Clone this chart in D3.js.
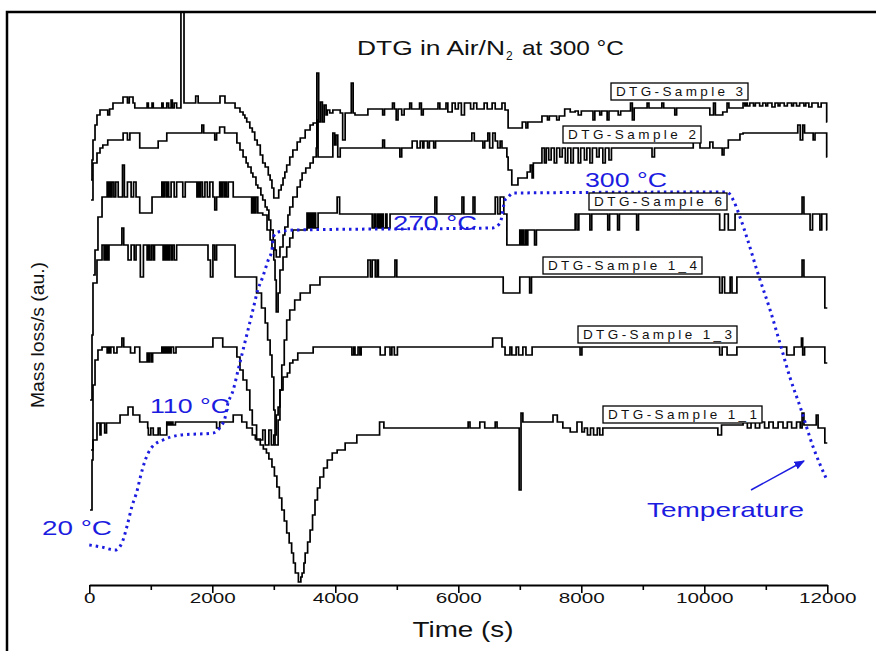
<!DOCTYPE html>
<html>
<head>
<meta charset="utf-8">
<script src="https://cdn.jsdelivr.net/npm/d3@7"></script>
<style>
  body { margin: 0; background: #fff; }
  svg { display: block; font-family: Arial, "Liberation Sans", sans-serif; }
</style>
</head>
<body>
<svg id="chart"></svg>
<script>
const width = 876
const height = 651

// x ticks (s)
const majorTicks = [0, 2000, 4000, 6000, 8000, 10000, 12000]
const minorTicks = [1000, 3000, 5000, 7000, 9000, 11000]

// series names, top to bottom
const seriesNames = ["DTG-Sample 3", "DTG-Sample 2", "DTG-Sample 6", "DTG-Sample 1_4", "DTG-Sample 1_3", "DTG-Sample 1_1"]

// DTG curves: [time (s), mass loss/s (a.u.)], step values
const sample3 = [[28,40.5],[44,42.5],[60,44.5],[93,46.0],[125,47.0],[174,47.5],[300,47.0],[330,47.6],[385,48.2],[548,48.8],[620,48.2],[650,48.8],[711,48.2],[740,47.7],[940,48.2],[960,47.7],[1020,48.2],[1040,47.7],[1180,48.2],[1200,47.7],[1260,48.2],[1290,47.7],[1330,48.5],[1350,47.7],[1380,48.2],[1420,47.7],[1490,57.3],[1540,48.2],[1730,48.9],[1770,48.2],[2125,48.9],[2206,48.2],[2370,47.7],[2450,47.3],[2500,47.0],[2530,46.7],[2560,46.3],[2610,45.7],[2650,45.3],[2690,44.5],[2730,44.0],[2780,43.0],[2820,42.2],[2860,41.8],[2910,41.0],[2940,40.5],[2970,39.7],[3000,38.7],[3080,39.5],[3120,40.0],[3150,40.7],[3180,41.3],[3210,42.0],[3260,42.8],[3310,43.5],[3380,44.3],[3430,44.7],[3510,45.5],[3590,46.0],[3640,46.2],[3700,51.2],[3730,46.3],[3760,48.3],[3790,46.3],[3820,48.0],[3850,47.0],[3870,47.5],[3910,47.2],[3960,47.5],[4080,47.2],[4120,44.5],[4160,47.2],[4260,50.2],[4290,47.2],[4320,47.0],[4530,47.6],[4770,47.0],[4800,47.6],[4930,48.2],[4960,47.6],[4990,46.5],[5020,47.6],[5080,47.0],[5120,47.6],[5210,48.2],[5240,47.6],[5370,48.2],[5400,47.0],[5430,47.6],[5670,48.2],[5700,47.6],[5800,48.2],[5830,47.3],[5900,48.2],[5950,47.6],[6000,48.2],[6050,47.0],[6100,48.2],[6200,47.6],[6250,48.2],[6300,47.6],[6420,48.2],[6470,47.6],[6550,48.2],[6600,47.6],[6710,48.2],[6760,47.5],[6810,45.7],[7040,46.3],[7100,45.7],[7130,46.3],[7360,46.9],[7450,46.5],[7480,46.9],[7600,46.5],[7640,46.9],[7730,47.6],[7820,47.3],[7900,47.4],[7950,47.0],[8000,47.4],[8190,46.5],[8220,47.4],[8300,47.0],[8330,47.4],[8420,46.5],[8450,47.4],[8600,47.0],[8640,47.4],[8800,48.2],[8830,46.5],[8860,47.7],[9070,48.2],[9100,47.7],[9310,48.2],[9340,47.7],[9520,47.0],[9550,47.7],[10090,47.0],[10150,48.2],[10180,47.0],[10300,47.3],[10370,48.2],[10400,47.7],[10630,48.2],[10660,47.9],[10680,48.2],[10700,47.9],[10740,48.2],[10800,47.9],[10830,48.2],[10900,47.9],[10950,48.2],[11000,47.9],[11030,48.2],[11100,47.8],[11150,48.2],[11200,47.9],[11230,48.2],[11300,47.9],[11350,48.2],[11420,47.9],[11450,48.2],[11500,47.9],[11550,48.2],[11620,47.9],[11650,48.2],[11700,47.8],[11750,48.2],[11850,47.8],[11900,48.2],[11990,46.3],[12000,46.3]]

const sample2 = [[28,38.5],[60,42.2],[125,43.2],[174,43.7],[220,44.0],[300,44.5],[550,45.2],[620,44.5],[660,45.2],[820,43.7],[1120,44.4],[1260,45.2],[1830,46.0],[1860,45.2],[2040,44.5],[2070,45.2],[2120,45.8],[2200,45.2],[2400,44.2],[2450,43.5],[2500,42.8],[2550,42.2],[2580,41.8],[2630,41.2],[2660,40.8],[2710,40.0],[2740,39.7],[2790,39.0],[2820,38.5],[2860,37.8],[2890,37.5],[2920,36.5],[2950,35.5],[2990,34.5],[3020,33.5],[3040,32.8],[3100,33.8],[3150,35.0],[3180,35.8],[3230,37.0],[3260,37.8],[3310,38.8],[3380,39.8],[3430,40.5],[3460,41.2],[3520,41.7],[3590,42.2],[3640,42.8],[3690,43.7],[3700,46.5],[3720,42.8],[3960,45.2],[3990,44.0],[4010,45.0],[4040,42.8],[4080,43.7],[4770,44.5],[4800,43.7],[5050,42.8],[5080,43.7],[5250,44.4],[5330,43.7],[5380,44.4],[5420,43.7],[5440,44.4],[5500,43.7],[5530,44.4],[5600,43.7],[5630,44.4],[6220,45.2],[6260,44.4],[6400,43.7],[6430,44.4],[6480,45.2],[6510,43.7],[6560,45.2],[6600,44.4],[6640,43.7],[6680,44.4],[6710,43.7],[6790,42.8],[6810,41.5],[6870,40.0],[6970,40.7],[7120,41.3],[7170,42.0],[7200,40.7],[7220,42.2],[7360,43.7],[7400,42.2],[7430,43.7],[7470,42.5],[7510,43.7],[7560,42.2],[7600,43.7],[7650,42.8],[7690,43.7],[7740,42.2],[7780,43.7],[7830,42.2],[7870,43.7],[7950,42.2],[7990,43.7],[8050,42.5],[8090,43.7],[8140,42.2],[8180,43.7],[8250,42.8],[8290,43.7],[8350,42.2],[8390,43.7],[8450,42.5],[8490,43.7],[9150,42.8],[9190,43.7],[9820,44.3],[9930,43.7],[10090,44.3],[10140,43.7],[10290,43.0],[10320,43.7],[10390,44.5],[10580,45.1],[10630,45.2],[11520,46.0],[11560,44.5],[11600,46.0],[11630,45.2],[11770,44.5],[11800,45.2],[11990,42.8],[12000,42.8]]

const sample6 = [[60,31.0],[93,33.5],[141,36.8],[207,38.8],[290,40.3],[310,38.8],[330,40.3],[350,38.8],[370,40.3],[400,38.8],[430,40.3],[470,38.8],[540,42.0],[570,38.8],[620,40.3],[680,38.8],[720,40.3],[760,38.8],[820,37.2],[1020,38.8],[1180,40.3],[1200,38.8],[1220,40.3],[1250,38.8],[1270,40.3],[1290,38.8],[1330,40.3],[1380,38.8],[1420,40.3],[1520,38.8],[1560,40.3],[1750,38.8],[1770,40.3],[1790,38.8],[1810,40.3],[1840,38.8],[1880,40.3],[1920,38.8],[1960,40.3],[2010,38.8],[2040,37.5],[2070,38.8],[2120,40.3],[2140,38.8],[2160,40.3],[2190,38.8],[2210,40.3],[2230,38.8],[2260,40.3],[2340,38.8],[2640,37.2],[2660,38.8],[2670,37.2],[2690,38.8],[2700,37.2],[2710,38.8],[2740,37.2],[2820,37.0],[2890,35.5],[2940,34.5],[2970,33.7],[3000,32.5],[3020,30.5],[3040,27.3],[3070,29.2],[3100,31.5],[3150,32.8],[3210,33.8],[3260,34.7],[3310,35.5],[3540,37.2],[3560,35.7],[3580,37.2],[3600,35.7],[3620,37.2],[3640,35.7],[3660,37.2],[3680,35.7],[3720,37.2],[4030,38.8],[4070,37.1],[4600,35.7],[4630,37.1],[4650,35.7],[4680,37.1],[4700,35.7],[4720,37.1],[4740,35.7],[4760,37.1],[4780,35.7],[4820,37.1],[4840,35.7],[4890,37.1],[5620,38.8],[5650,37.1],[6060,38.8],[6090,37.1],[6240,38.8],[6270,37.1],[6600,38.8],[6640,37.1],[6680,38.8],[6740,37.1],[6790,34.0],[7000,35.5],[7020,34.0],[7040,35.5],[7060,34.0],[7090,35.5],[7110,34.0],[7130,35.5],[7240,34.0],[7270,35.5],[7900,37.1],[7930,35.5],[7960,37.1],[8140,35.5],[8170,37.1],[8430,35.5],[8460,37.1],[8590,35.5],[8620,37.1],[8900,35.5],[8930,37.1],[10250,35.5],[10330,37.1],[10390,35.5],[10500,37.1],[11590,38.8],[11620,37.1],[11720,35.5],[11760,37.1],[11880,35.5],[11910,37.1],[11990,35.5],[12000,35.5]]

const sample1_4 = [[11,18.5],[44,25.0],[60,30.2],[125,32.5],[207,34.0],[240,32.5],[255,34.0],[270,32.5],[285,34.0],[300,32.5],[320,34.0],[530,35.7],[560,34.0],[630,32.5],[680,34.0],[730,32.5],[760,34.0],[830,30.8],[880,34.0],[940,32.5],[960,34.0],[980,32.5],[1010,34.0],[1040,32.5],[1060,34.0],[1200,32.5],[1220,34.0],[1240,32.5],[1260,34.0],[1280,32.5],[1300,34.0],[1330,32.5],[1350,34.0],[1380,32.5],[1420,34.0],[1930,32.5],[1970,30.8],[2010,34.0],[2040,32.5],[2070,34.0],[2370,30.8],[2720,29.2],[2800,27.7],[2860,26.2],[2900,24.5],[2940,23.0],[2970,20.8],[3000,17.5],[3020,14.0],[3070,16.5],[3100,19.5],[3130,22.0],[3170,24.5],[3210,26.5],[3260,27.5],[3340,28.5],[3430,29.2],[3590,30.0],[3750,30.8],[4530,32.5],[4570,30.8],[4600,32.5],[4650,30.8],[4680,32.5],[4700,30.8],[4970,32.5],[5000,30.8],[6730,29.2],[7000,30.8],[7160,29.2],[7190,30.8],[10250,29.2],[10290,30.8],[10330,29.2],[10420,30.8],[10450,29.2],[10530,30.8],[11590,32.5],[11620,30.8],[11960,27.7],[12000,27.7]]

const sample1_3 = [[28,13.5],[60,20.0],[93,22.5],[141,23.5],[207,23.8],[290,23.2],[310,23.8],[330,23.2],[350,23.8],[400,23.2],[450,23.8],[530,24.7],[560,23.8],[670,23.2],[740,23.8],[820,22.3],[940,23.2],[960,22.3],[980,23.2],[1010,22.3],[1030,23.2],[1180,23.8],[1200,23.2],[1210,23.8],[1230,23.2],[1250,23.8],[1270,23.2],[1290,23.8],[1310,23.2],[1330,23.8],[1370,23.2],[1410,23.8],[2010,24.7],[2170,23.8],[2400,22.8],[2450,21.5],[2500,20.5],[2560,19.5],[2610,17.5],[2650,16.0],[2720,14.5],[2820,15.5],[2860,14.0],[2920,15.5],[2960,14.0],[3000,15.0],[3040,17.0],[3070,17.8],[3100,19.5],[3150,20.8],[3220,21.2],[3260,22.2],[3310,22.5],[3390,23.2],[3640,23.8],[4270,23.0],[4300,23.8],[4320,23.0],[4370,23.8],[4400,23.0],[4420,23.8],[4730,23.0],[4810,23.8],[4890,23.0],[4920,23.8],[4960,23.0],[5010,23.8],[6560,24.7],[6710,23.8],[6760,23.0],[6840,23.8],[6870,23.0],[6940,23.8],[6980,23.0],[7050,23.8],[7100,23.0],[7200,23.8],[7980,23.0],[8010,23.8],[10250,23.0],[10290,23.8],[10370,23.0],[10530,23.8],[11340,23.0],[11460,23.8],[11580,24.7],[11600,23.0],[11630,23.8],[11960,22.2],[12000,22.2]]

const sample1_1 = [[11,7.5],[44,12.5],[60,14.5],[125,16.2],[174,15.0],[190,16.2],[250,15.2],[280,16.2],[500,17.0],[630,17.8],[710,17.0],[820,16.3],[950,15.7],[960,15.0],[1000,15.7],[1040,15.0],[1120,15.7],[1150,15.0],[1260,16.3],[1280,16.0],[1300,16.3],[1320,16.0],[1340,16.3],[1360,16.0],[1400,16.3],[2070,15.7],[2120,16.3],[2340,17.0],[2480,16.3],[2560,15.7],[2650,15.0],[2700,14.6],[2780,14.0],[2830,13.6],[2880,13.2],[2920,12.6],[2970,11.8],[3010,10.9],[3050,9.8],[3090,8.7],[3130,7.5],[3170,6.4],[3210,5.2],[3250,4.2],[3290,3.2],[3320,2.2],[3350,1.2],[3400,0.3],[3440,0.8],[3460,1.2],[3490,2.2],[3510,3.2],[3550,4.3],[3590,5.5],[3630,7.0],[3670,8.5],[3710,9.7],[3750,10.8],[3810,11.7],[3870,12.5],[3950,13.2],[4030,13.5],[4160,14.2],[4350,15.0],[4720,16.3],[4790,15.7],[6160,16.3],[6190,15.7],[6350,16.3],[6430,15.7],[6600,16.3],[6630,15.7],[6990,9.5],[7020,17.2],[7050,16.3],[7540,17.0],[7610,16.3],[7700,15.7],[7820,15.3],[7930,16.3],[8010,15.3],[8050,15.7],[8100,15.0],[8150,15.7],[8200,15.0],[8260,15.7],[8300,15.0],[8350,15.7],[10220,15.0],[10280,16.0],[10630,16.3],[10700,15.7],[10760,16.3],[10830,15.7],[10900,16.3],[10980,15.7],[11050,16.3],[11120,15.7],[11200,16.3],[11280,15.7],[11350,16.3],[11420,15.7],[11500,16.3],[11560,15.7],[11590,17.2],[11620,16.0],[11820,17.0],[11850,15.7],[11960,14.2],[12000,14.2]]

// furnace temperature programme
const tempTime = [0, 200, 420, 530, 610, 690, 780, 830, 910, 1020, 1200, 1480, 2010, 2130, 2210, 2240, 2340, 2420, 2500, 2580, 2660, 2740, 2820, 2910, 2970, 2990, 3070, 3380, 6560, 6680, 6760, 6810, 6890, 10370, 10470, 10580, 10690, 10870, 11070, 11230, 11390, 11560, 11770, 11980]
const tempVals = [20, 18.4, 16, 21.6, 34.3, 50.1, 63.6, 73.9, 87.4, 97.7, 103.3, 107.2, 108.8, 113.6, 121.5, 129.4, 142.9, 158.8, 174.7, 190.5, 206.4, 222.3, 232.6, 246.1, 254, 264.3, 268.3, 269.9, 271.5, 275.4, 293.7, 296, 299.2, 300, 293.7, 280.2, 264.3, 235.7, 206.4, 180.2, 153.3, 129.4, 97.7, 73]

const tempLabels = ["20 °C", "110 °C", "270 °C", "300 °C"]

const allSeries = [sample3, sample2, sample6, sample1_4, sample1_3, sample1_1]

// layout of legend boxes (left, top, width) and temperature labels
const boxLayout = [[611, 83, 137], [563, 126, 138], [589, 193, 138], [543, 257, 159], [578, 326, 159], [603, 406, 159]]
const tempLabelLayout = [[42, 535, 70], [150, 413, 80], [393, 230, 84], [585, 187, 82]]

const blue = "#1c1ce0"

const svg = d3.select("#chart")
  .attr("width", width)
  .attr("height", height)
  .attr("viewBox", [0, 0, width, height])

const x = d3.scaleLinear().domain([0, 12000]).range([89.3, 827.3])
const y = d3.scaleLinear().domain([0, 57.3]).range([585, 12])
const yT = d3.scaleLinear().domain([20, 300]).range([545, 192])

// frame (cropped box)
svg.append("path")
  .attr("d", "M7,651 V12 H876")
  .attr("fill", "none")
  .attr("stroke", "#000")
  .attr("stroke-width", 2.5)

// title: DTG in Air/N2 at 300 °C
const title = svg.append("g")
  .attr("font-size", 21)
  .attr("fill", "#111")
title.append("text").attr("x", 357).attr("y", 55)
  .attr("textLength", 148).attr("lengthAdjust", "spacingAndGlyphs")
  .text("DTG in Air/N")
title.append("text").attr("x", 506).attr("y", 60).attr("font-size", 12).text("2")
title.append("text").attr("x", 522).attr("y", 55)
  .attr("textLength", 102).attr("lengthAdjust", "spacingAndGlyphs")
  .text("at 300 °C")

// temperature labels (under the curves)
svg.append("g")
  .selectAll("text")
  .data(tempLabels)
  .join("text")
  .attr("x", (d, i) => tempLabelLayout[i][0])
  .attr("y", (d, i) => tempLabelLayout[i][1])
  .attr("textLength", (d, i) => tempLabelLayout[i][2])
  .attr("lengthAdjust", "spacingAndGlyphs")
  .attr("font-size", 21)
  .attr("fill", blue)
  .text(d => d)

// x axis
svg.append("g")
  .attr("transform", `translate(0,${y(0)})`)
  .call(d3.axisBottom(x).tickValues(minorTicks).tickSize(5).tickFormat(""))
  .call(g => g.select(".domain").remove())
  .call(g => g.selectAll("line").attr("stroke-width", 1.6))

svg.append("g")
  .attr("transform", `translate(0,${y(0)})`)
  .call(d3.axisBottom(x).tickValues(majorTicks).tickSize(8).tickSizeOuter(0).tickFormat(d3.format("d")))
  .call(g => g.select(".domain").attr("stroke-width", 2))
  .call(g => g.selectAll("line").attr("stroke-width", 1.6))
  .call(g => g.selectAll("text")
    .attr("font-size", 15)
    .attr("font-family", "Arial, 'Liberation Sans', sans-serif")
    .attr("fill", "#111")
    .attr("dy", "0.45em")
    .attr("textLength", d => String(d).length * 11.5)
    .attr("lengthAdjust", "spacingAndGlyphs"))

svg.append("text")
  .attr("x", 463)
  .attr("y", 637)
  .attr("text-anchor", "middle")
  .attr("font-size", 22)
  .attr("textLength", 101)
  .attr("lengthAdjust", "spacingAndGlyphs")
  .attr("fill", "#111")
  .text("Time (s)")

svg.append("text")
  .attr("transform", "translate(44,335) rotate(-90)")
  .attr("text-anchor", "middle")
  .attr("font-size", 18)
  .attr("textLength", 146)
  .attr("lengthAdjust", "spacingAndGlyphs")
  .attr("fill", "#111")
  .text("Mass loss/s (au.)")

// DTG curves
const line = d3.line()
  .x(d => x(d[0]))
  .y(d => y(d[1]))
  .curve(d3.curveStepAfter)

svg.append("g")
  .selectAll("path")
  .data(allSeries)
  .join("path")
  .attr("d", line)
  .attr("fill", "none")
  .attr("stroke", "#000")
  .attr("stroke-width", 1.7)
  .attr("stroke-linejoin", "miter")

// temperature curve
const tempData = tempTime.map((t, i) => [t, tempVals[i]])
svg.append("path")
  .datum(tempData)
  .attr("d", d3.line().x(d => x(d[0])).y(d => yT(d[1])).curve(d3.curveMonotoneX))
  .attr("fill", "none")
  .attr("stroke", blue)
  .attr("stroke-width", 3)
  .attr("stroke-dasharray", "2.5,4")

// legend boxes
const legend = svg.append("g")
  .selectAll("g")
  .data(seriesNames)
  .join("g")
  .attr("transform", (d, i) => `translate(${boxLayout[i][0]},${boxLayout[i][1]})`)

legend.append("rect")
  .attr("width", (d, i) => boxLayout[i][2])
  .attr("height", 17)
  .attr("fill", "#fff")
  .attr("stroke", "#000")
  .attr("stroke-width", 1.3)

legend.append("text")
  .attr("x", 5)
  .attr("y", 13)
  .attr("font-size", 13.5)
  .attr("fill", "#111")
  .attr("textLength", (d, i) => boxLayout[i][2] - 10)
  .attr("lengthAdjust", "spacing")
  .text(d => d)

// "Temperature" note with arrow
svg.append("defs").append("marker")
  .attr("id", "arrow")
  .attr("viewBox", "0 0 10 10")
  .attr("refX", 9).attr("refY", 5)
  .attr("markerWidth", 7).attr("markerHeight", 7)
  .attr("orient", "auto")
  .append("path")
  .attr("d", "M0,1 L10,5 L0,9 Z")
  .attr("fill", blue)

svg.append("line")
  .attr("x1", 751).attr("y1", 490)
  .attr("x2", 804).attr("y2", 461)
  .attr("stroke", blue)
  .attr("stroke-width", 1.5)
  .attr("marker-end", "url(#arrow)")

svg.append("text")
  .attr("x", 647)
  .attr("y", 517)
  .attr("font-size", 21)
  .attr("textLength", 157)
  .attr("lengthAdjust", "spacingAndGlyphs")
  .attr("fill", blue)
  .text("Temperature")
</script>
</body>
</html>
